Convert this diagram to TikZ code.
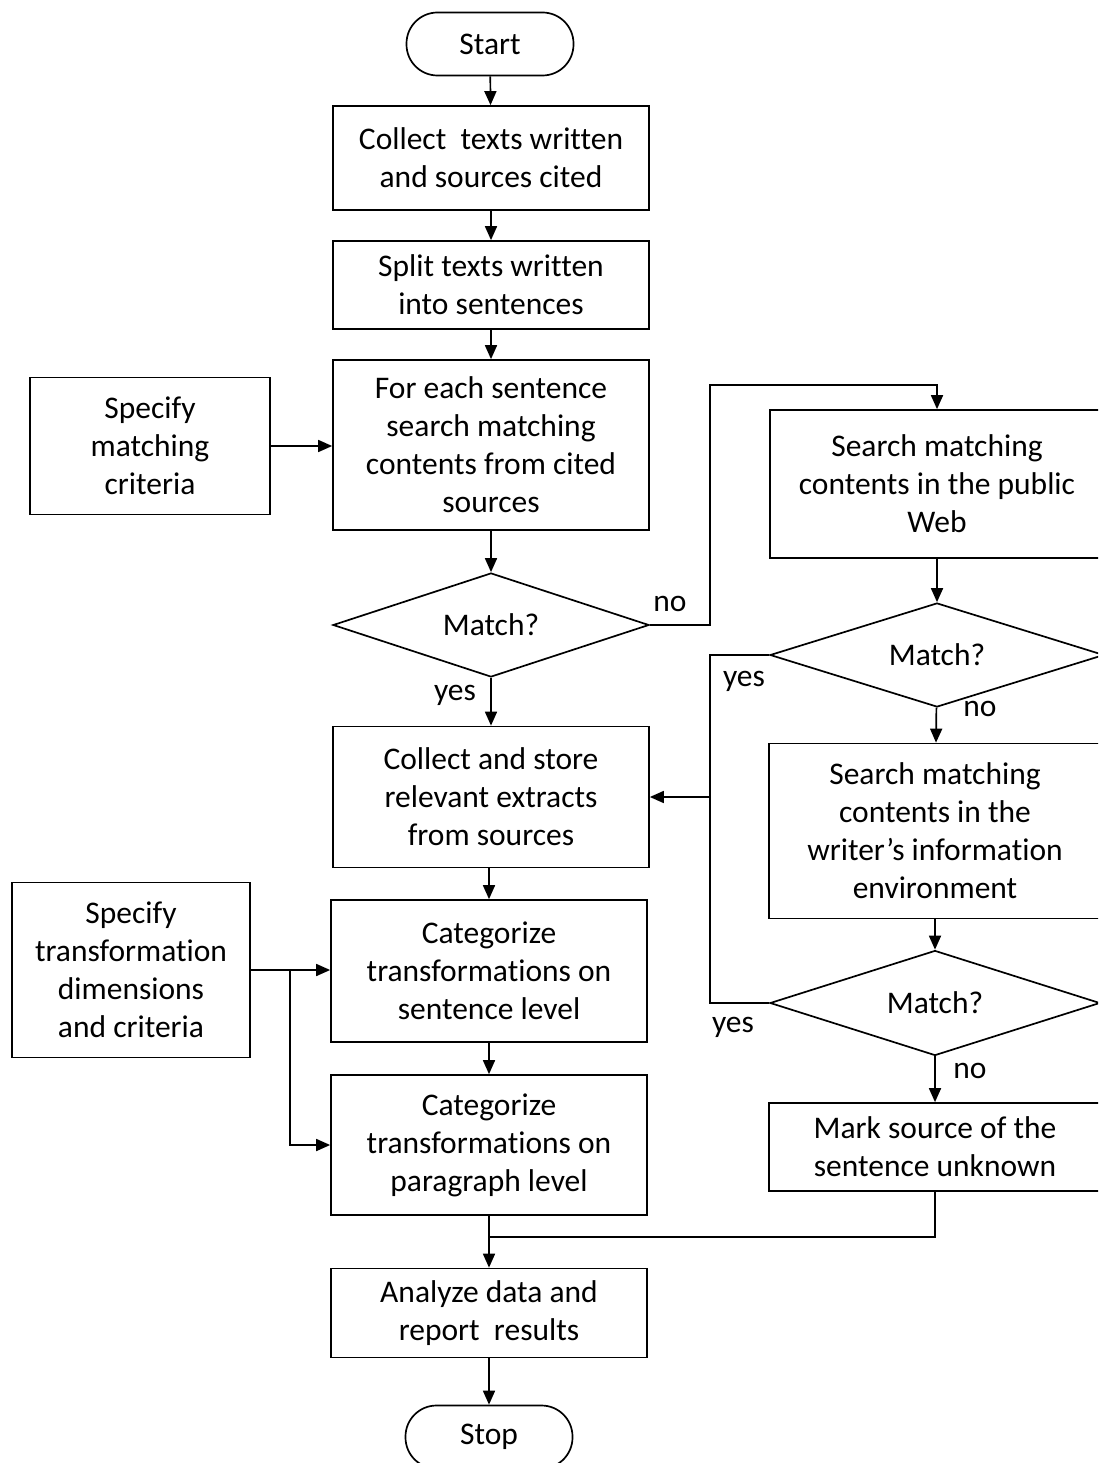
\documentclass[tikz,border=0pt]{standalone}
\usepackage{fontspec}
\setmainfont{Carlito}[Ligatures={NoCommon}]
\usetikzlibrary{arrows.meta,shapes.geometric}
\begin{document}
\begin{tikzpicture}[x=1pt,y=-1pt,
  every node/.style={font=\fontsize{31.5}{38}\selectfont},
  box/.style={draw,line width=1.7pt,rectangle,inner sep=0pt,align=center},
  termbox/.style={draw,line width=1.7pt,rounded corners=31pt,minimum width=167pt,minimum height=63pt,inner sep=0pt},
  dec/.style={draw,line width=1.7pt,diamond,shape aspect=4,inner sep=0pt,align=center},
  lbl/.style={inner sep=0pt},
  line/.style={line width=1.7pt},
  arr/.style={line width=1.7pt,-{Triangle[length=14pt,width=12pt]}}
]
\useasboundingbox (0,0) rectangle (1098,1463);
\clip (0,0) rectangle (1098,1463);
% terminators
\node[termbox] (start) at (490,44) {Start};
\node[termbox] (stop) at (489,1437) {Stop};
% main column
\node[box,minimum width=316pt,minimum height=104pt] (b1) at (491,158) {Collect\ \ texts written\\and sources cited};
\node[box,minimum width=316pt,minimum height=88pt] (b2) at (491,285) {Split texts written\\into sentences};
\node[box,minimum width=316pt,minimum height=170pt] (b3) at (491,445) {For each sentence\\search matching\\contents from cited\\sources};
\node[dec,minimum width=316pt,minimum height=104pt] (d1) at (491,625) {Match?};
\node[box,minimum width=316pt,minimum height=141pt] (b4) at (491,797) {Collect and store\\relevant extracts\\from sources};
\node[box,minimum width=316pt,minimum height=142pt] (b5) at (489,971) {Categorize\\transformations on\\sentence level};
\node[box,minimum width=316pt,minimum height=140pt] (b6) at (489,1145) {Categorize\\transformations on\\paragraph level};
\node[box,minimum width=316pt,minimum height=89pt] (b7) at (489,1313) {Analyze data and\\report\ \ results};
% left boxes
\node[box,minimum width=240pt,minimum height=137pt] (sm) at (150,446) {Specify\\matching\\criteria};
\node[box,minimum width=238pt,minimum height=175pt] (st) at (131,970) {Specify\\transformation\\dimensions\\and criteria};
% right column
\node[box,minimum width=334pt,minimum height=148pt] (web) at (937,484) {Search matching\\contents in the public\\Web};
\node[dec,minimum width=334pt,minimum height=104pt] (d2) at (937,655) {Match?};
\node[box,minimum width=332pt,minimum height=175pt] (env) at (935,831) {Search matching\\contents in the\\writer’s information\\environment};
\node[dec,minimum width=330pt,minimum height=105pt] (d3) at (935,1003) {Match?};
\node[box,minimum width=332pt,minimum height=88pt] (mark) at (935,1147) {Mark source of the\\sentence unknown};
% labels
\node[lbl] (l1) at (670,604) {no};
\node[lbl] (l2) at (455,695) {yes};
\node[lbl] (l3) at (744,681) {yes};
\node[lbl] (l4) at (980,709) {no};
\node[lbl] (l5) at (733,1027) {yes};
\node[lbl] (l6) at (970,1071) {no};
% coordinates
\coordinate (n1) at (710,385);
\coordinate (jn) at (710,797);
\coordinate (j2) at (489,1237);
\coordinate (br) at (290,970);
% connectors
\draw[arr] (start) -- (b1);
\draw[arr] (b1) -- (b2);
\draw[arr] (b2) -- (b3);
\draw[arr] (b3) -- (d1);
\draw[arr] (d1) -- (b4);
\draw[arr] (b4.south -| b5.north) -- (b5);
\draw[arr] (b5) -- (b6);
\draw[arr] (b6) -- (b7);
\draw[arr] (b7) -- (stop);
\draw[arr] (sm) -- (sm -| b3.west);
\draw[arr] (d1.east) -| (n1) -| (web.north);
\draw[arr] (web) -- (d2);
\draw[arr] (d2) -- (env);
\draw[arr] (env) -- (d3);
\draw[arr] (d3) -- (mark);
\draw[line] (d2.west) -| (jn);
\draw[line] (d3.west) -| (jn);
\draw[arr] (jn) -- (b4.east);
\draw[line] (mark.south) |- (j2);
\draw[arr] (st.east) -- (st.east -| b5.west);
\draw[arr] (br) |- (b6.west);
\end{tikzpicture}
\end{document}
